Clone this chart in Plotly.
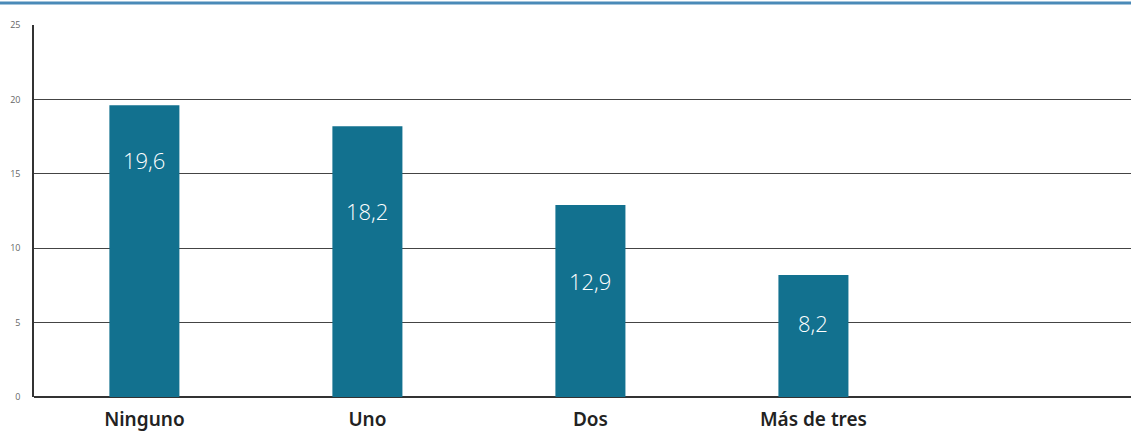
import plotly.graph_objects as go

categories = ["Ninguno", "Uno", "Dos", "Más de tres"]
values = [19.6, 18.2, 12.9, 8.2]
value_labels = ["19,6", "18,2", "12,9", "8,2"]
label_y = [15.9, 12.5, 7.8, 5.0]
y_ticks = [0, 5, 10, 15, 20, 25]

bar_color = "#12718f"

fig = go.Figure()
fig.add_trace(go.Bar(
    x=list(range(len(categories))),
    y=values,
    marker=dict(color=bar_color, line=dict(width=0)),
    width=0.314,
    hoverinfo="skip",
))

for i, (lab, yy) in enumerate(zip(value_labels, label_y)):
    fig.add_annotation(
        x=i, y=yy, text=lab, showarrow=False,
        font=dict(family="Open Sans", size=22, color="white", weight=300),
        xref="x", yref="y",
    )

fig.add_shape(
    type="line", xref="paper", yref="paper",
    x0=-0.05, x1=1.05, y0=1.0592, y1=1.0592,
    line=dict(color="#4a8ab8", width=3),
)

fig.update_layout(
    width=1131, height=432,
    margin=dict(l=34, r=0, t=25, b=35),
    plot_bgcolor="white", paper_bgcolor="white",
    showlegend=False,
    xaxis=dict(
        range=[-0.495, 4.424],
        tickmode="array",
        tickvals=list(range(len(categories))),
        ticktext=categories,
        ticks="",
        showgrid=False,
        zeroline=False,
        showline=False,
        automargin=False,
        tickfont=dict(family="Noto Sans", size=19, color="#222", weight=600),
        ticklabelstandoff=9,
    ),
    yaxis=dict(
        range=[0, 25],
        tickmode="array",
        tickvals=y_ticks,
        ticktext=[str(v) for v in y_ticks],
        showgrid=True,
        gridcolor="#444",
        gridwidth=1.3,
        zeroline=True,
        zerolinecolor="#333",
        zerolinewidth=1.5,
        showline=True,
        linecolor="#333",
        linewidth=1.5,
        ticks="",
        automargin=False,
        tickfont=dict(family="Open Sans", size=9, color="#666"),
        ticklabelstandoff=10,
    ),
)

fig.write_html(
    "out.html",
    config={"displayModeBar": False},
    post_script="document.body.style.margin='0';document.body.style.overflow='hidden';",
)
